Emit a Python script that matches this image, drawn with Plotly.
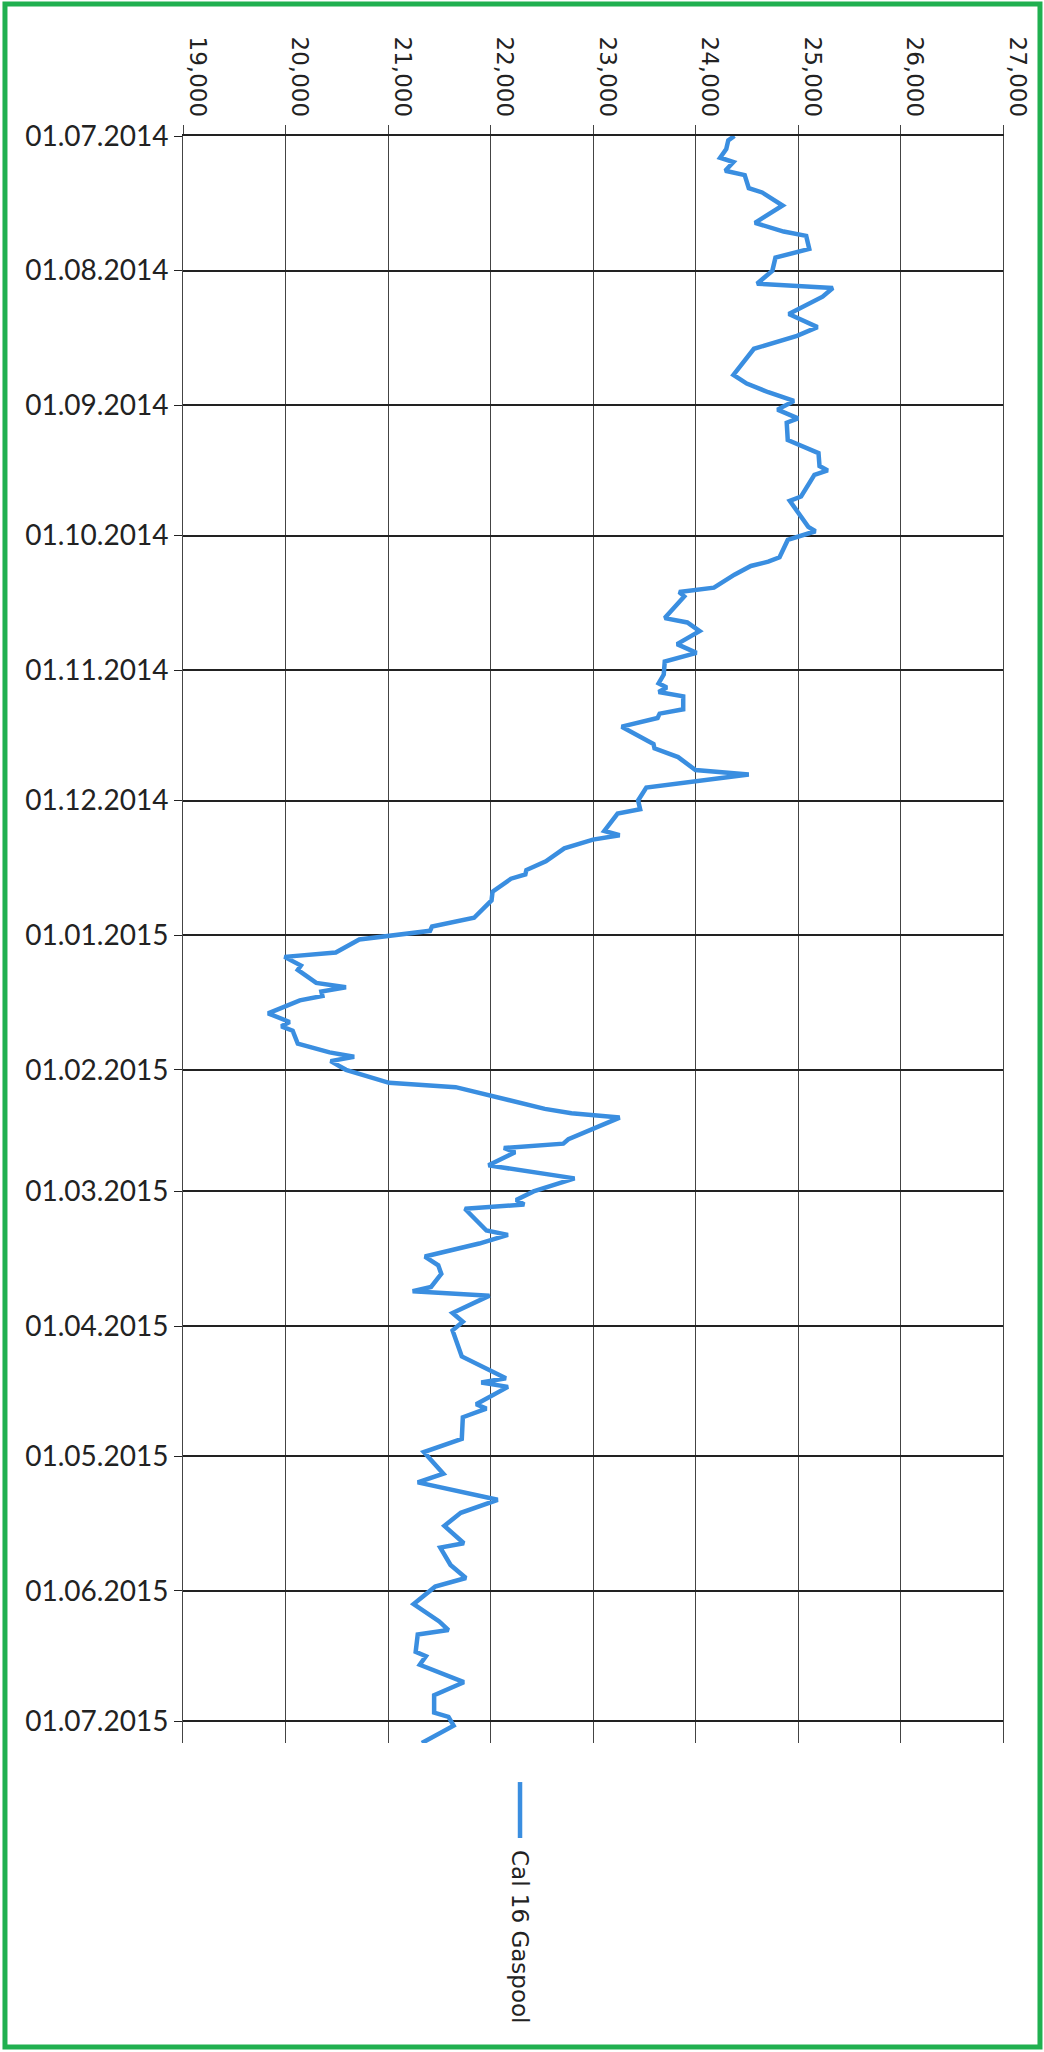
import plotly.graph_objects as go

# Cal 16 Gaspool, Tageswerte
fechas = [
    "2014-07-01", "2014-07-02", "2014-07-04", "2014-07-06", "2014-07-07", "2014-07-09",
    "2014-07-10", "2014-07-13", "2014-07-14", "2014-07-17", "2014-07-21", "2014-07-23",
    "2014-07-24", "2014-07-27", "2014-07-29", "2014-08-01", "2014-08-04", "2014-08-05",
    "2014-08-07", "2014-08-11", "2014-08-14", "2014-08-16", "2014-08-19", "2014-08-25",
    "2014-08-27", "2014-08-29", "2014-08-31", "2014-09-02", "2014-09-04", "2014-09-05",
    "2014-09-09", "2014-09-10", "2014-09-12", "2014-09-15", "2014-09-16", "2014-09-17",
    "2014-09-22", "2014-09-23", "2014-09-25", "2014-09-29", "2014-09-30", "2014-10-02",
    "2014-10-06", "2014-10-07", "2014-10-08", "2014-10-10", "2014-10-13", "2014-10-14",
    "2014-10-15", "2014-10-20", "2014-10-21", "2014-10-23", "2014-10-26", "2014-10-28",
    "2014-10-30", "2014-11-02", "2014-11-04", "2014-11-05", "2014-11-06", "2014-11-07",
    "2014-11-10", "2014-11-11", "2014-11-12", "2014-11-14", "2014-11-18", "2014-11-19",
    "2014-11-21", "2014-11-24", "2014-11-25", "2014-11-28", "2014-12-01", "2014-12-03",
    "2014-12-04", "2014-12-08", "2014-12-09", "2014-12-10", "2014-12-12", "2014-12-15",
    "2014-12-17", "2014-12-18", "2014-12-19", "2014-12-22", "2014-12-24", "2014-12-28",
    "2014-12-30", "2014-12-31", "2015-01-02", "2015-01-05", "2015-01-06", "2015-01-08",
    "2015-01-09", "2015-01-12", "2015-01-13", "2015-01-14", "2015-01-15", "2015-01-16",
    "2015-01-19", "2015-01-21", "2015-01-22", "2015-01-23", "2015-01-26", "2015-01-28",
    "2015-01-29", "2015-01-30", "2015-02-01", "2015-02-03", "2015-02-04", "2015-02-05",
    "2015-02-08", "2015-02-10", "2015-02-11", "2015-02-12", "2015-02-17", "2015-02-18",
    "2015-02-19", "2015-02-20", "2015-02-23", "2015-02-26", "2015-03-01", "2015-03-03",
    "2015-03-04", "2015-03-05", "2015-03-10", "2015-03-11", "2015-03-13", "2015-03-16",
    "2015-03-18", "2015-03-20", "2015-03-23", "2015-03-24", "2015-03-25", "2015-03-29",
    "2015-03-31", "2015-04-02", "2015-04-08", "2015-04-13", "2015-04-14", "2015-04-15",
    "2015-04-19", "2015-04-20", "2015-04-22", "2015-04-27", "2015-04-30", "2015-05-05",
    "2015-05-07", "2015-05-11", "2015-05-14", "2015-05-17", "2015-05-21", "2015-05-22",
    "2015-05-26", "2015-05-29", "2015-05-31", "2015-06-04", "2015-06-08", "2015-06-10",
    "2015-06-11", "2015-06-15", "2015-06-16", "2015-06-18", "2015-06-22", "2015-06-25",
    "2015-06-29", "2015-06-30", "2015-07-02", "2015-07-06",
]
valores = [
    24380, 24320, 24300, 24240, 24370, 24290,
    24480, 24520, 24650, 24850, 24580, 24860,
    25080, 25110, 24780, 24750, 24600, 25340,
    25240, 24910, 25190, 24990, 24570, 24370,
    24500, 24710, 24960, 24800, 25000, 24890,
    24900, 25000, 25200, 25210, 25290, 25160,
    25030, 24920, 24980, 25100, 25170, 24900,
    24820, 24710, 24540, 24380, 24180, 23840,
    23890, 23700, 23920, 24040, 23820, 24010,
    23700, 23690, 23640, 23720, 23640, 23880,
    23880, 23650, 23630, 23280, 23590, 23600,
    23830, 24000, 24520, 23520, 23440, 23460,
    23240, 23110, 23260, 23000, 22720, 22540,
    22350, 22340, 22200, 22020, 22010, 21840,
    21430, 21410, 20720, 20490, 19990, 20150,
    20120, 20300, 20590, 20350, 20360, 20140,
    19830, 20040, 19960, 20070, 20120, 20430,
    20670, 20440, 20590, 20850, 21010, 21660,
    22180, 22530, 22790, 23260, 22760, 22710,
    22130, 22240, 21980, 22820, 22420, 22250,
    22330, 21750, 21960, 22170, 21890, 21360,
    21490, 21520, 21420, 21240, 21990, 21630,
    21730, 21630, 21720, 22150, 21910, 22170,
    21860, 21960, 21730, 21720, 21350, 21540,
    21290, 22070, 21710, 21550, 21740, 21510,
    21610, 21760, 21460, 21250, 21500, 21590,
    21290, 21270, 21370, 21310, 21740, 21450,
    21450, 21590, 21640, 21330,
]
serie = "Cal 16 Gaspool"

azul = "#3a8ee0"
verde = "#20b050"

fig = go.Figure()
fig.add_trace(go.Scatter(
    x=valores, y=fechas, mode="lines", name=serie,
    line=dict(color=azul, width=4.5), showlegend=False,
))

fig.update_layout(
    width=1044, height=2052,
    margin=dict(l=183, r=41, t=136, b=309),
    paper_bgcolor="white", plot_bgcolor="white",
    font=dict(family="DejaVu Sans", color="#222"),
)

fig.update_xaxes(
    side="top", range=[19000, 27000], dtick=1000, tickformat=",d",
    tickangle=90, ticklabelshift=14,
    tickfont=dict(family="DejaVu Sans", size=23, color="#222"),
    showgrid=True, gridcolor="#444", gridwidth=1,
    ticks="outside", ticklen=9, tickcolor="#444",
    showline=True, linecolor="#222", linewidth=1.8, mirror=False,
    zeroline=False, automargin=False,
)
fig.update_yaxes(
    type="date", range=["2015-07-06", "2014-07-01"],
    tick0="2014-07-01", dtick="M1", tickformat="%d.%m.%Y",
    tickfont=dict(family="Lato", size=28, color="#222"),
    showgrid=True, gridcolor="#222", gridwidth=1.8,
    ticks="outside", ticklen=8, tickcolor="#222",
    showline=True, linecolor="#444", linewidth=1, mirror=True,
    zeroline=False, automargin=False,
)

# rotated legend below the plot
fig.add_shape(type="line", xref="paper", yref="paper",
              x0=0.411, x1=0.411, y0=-0.0243, y1=-0.0591,
              line=dict(color=azul, width=4.5))
fig.add_annotation(xref="paper", yref="paper", x=0.411, y=-0.1201,
                   xanchor="center", yanchor="middle",
                   text=serie, textangle=90, showarrow=False,
                   font=dict(family="DejaVu Sans", size=23, color="#222"))

# green page frame
fig.add_shape(type="rect", xref="paper", yref="paper",
              x0=-0.2171, x1=1.0451, y0=-0.1892, y1=1.0821,
              line=dict(color=verde, width=5))

# body margin of the page would push the figure 8px off
fig.write_html("out.html", config={"displayModeBar": False},
               post_script="document.body.style.margin='0';")
